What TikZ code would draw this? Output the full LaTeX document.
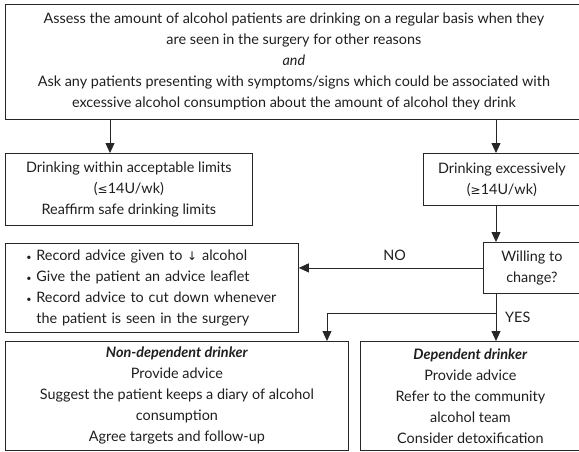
\documentclass[tikz,border=0pt]{standalone}
\usepackage{fontspec}
\setmainfont{Lato}
\newfontfamily\symf{DejaVu Sans}
\usetikzlibrary{arrows.meta}
\newcommand{\blt}{\makebox[10pt][l]{\fontsize{9}{9}\selectfont\textbullet}}
\begin{document}
\begin{tikzpicture}[x=1pt,y=-1pt,
  box/.style={draw=black!85, line width=0.8pt, rectangle, inner sep=0pt,
    align=center, text=black!88, anchor=north west,
    font=\fontsize{14.4}{21}\selectfont},
  link/.style={draw=black!85, line width=0.8pt,
    -{Triangle[width=9pt,length=10pt]}},
  lab/.style={text=black!88, font=\fontsize{14.4}{15}\selectfont, inner sep=0pt}]
\useasboundingbox (0,0) rectangle (579,452);
\fill[white] (0,0) rectangle (579,452);

% boxes
\node[box, minimum width=577, minimum height=115] (top) at (5,4)
  {Assess the amount of alcohol patients are drinking on a regular basis when they\\
   are seen in the surgery for other reasons\\
   \textit{and}\\
   Ask any patients presenting with symptoms/signs which could be associated with\\
   excessive alcohol consumption about the amount of alcohol they drink};
\node[box, minimum width=247, minimum height=72] (within) at (5,153)
  {Drinking within acceptable limits\\
   ({\symf\fontsize{12}{12}\selectfont ≤}14U/wk)\\
   Reaffirm safe drinking limits};
\node[box, minimum width=157, minimum height=52] (excess) at (423,153)
  {Drinking excessively\\
   ({\symf\fontsize{12}{12}\selectfont ≥}14U/wk)};
\node[box, minimum width=97, minimum height=51] (willing) at (483,242)
  {Willing to\\ change?};
\node[box, minimum width=293, minimum height=89, text width=251, align=left] (record) at (5,243)
  {\blt Record advice given to {\symf\fontsize{12}{12}\selectfont ↓} alcohol\\
   \blt Give the patient an advice leaflet\\
   \blt Record advice to cut down whenever\\
   \hspace*{10pt}the patient is seen in the surgery};
\node[box, minimum width=343, minimum height=109] (nondep) at (5,341)
  {\textbf{\textit{Non-dependent drinker}}\\
   Provide advice\\
   Suggest the patient keeps a diary of alcohol\\
   consumption\\
   Agree targets and follow-up};
\node[box, minimum width=220, minimum height=109] (dep) at (360,341)
  {\textbf{\textit{Dependent drinker}}\\
   Provide advice\\
   Refer to the community\\
   alcohol team\\
   Consider detoxification};

% connector guides
\coordinate (lx) at (110,0);
\coordinate (rx) at (496,0);
\coordinate (bx) at (327,0);
\coordinate (yb) at (0,313);

% connectors
\draw[link] (top.south -| lx) -- (within.north -| lx);
\draw[link] (top.south -| rx) -- (excess.north -| rx);
\draw[link] (excess.south -| rx) -- (willing.north -| rx);
\draw[link] (willing.west) -- node[lab, above=7pt, pos=0.48] (no) {NO} (record.east |- willing.west);
\draw[link] (willing.south -| rx) -- (dep.north -| rx);
\draw[link] (yb -| rx) -- (yb -| bx) -- (nondep.north -| bx);
\node[lab, anchor=west] (yes) at (505,317) {YES};
\end{tikzpicture}
\end{document}
